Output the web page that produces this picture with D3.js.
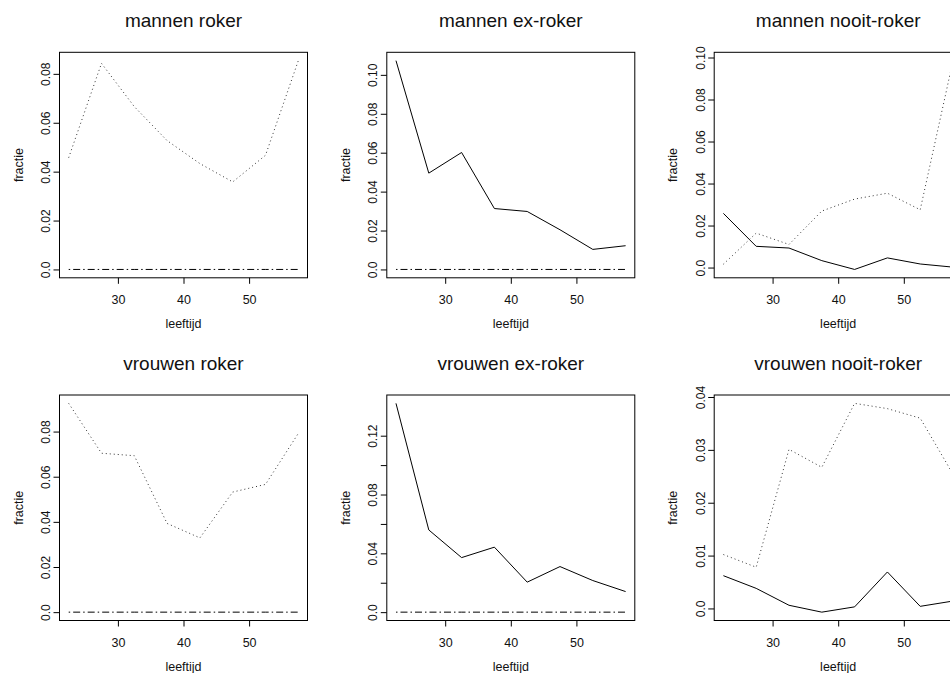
<!DOCTYPE html>
<html>
<head>
<meta charset="utf-8">
<script src="https://cdn.jsdelivr.net/npm/d3@7"></script>
<style>
  body { margin: 0; background: #fff; }
  svg text { font-family: "Liberation Sans", Arial, Helvetica, sans-serif; fill: #111; }
</style>
</head>
<body>
<div id="chart"></div>
<script>
// leeftijdsklassen (midden van 5-jaarsgroepen)
const ages = [22.5, 27.5, 32.5, 37.5, 42.5, 47.5, 52.5, 57.5];
const xTickValues = [30, 40, 50];

const panelTitles = ["mannen roker", "mannen ex-roker", "mannen nooit-roker",
                     "vrouwen roker", "vrouwen ex-roker", "vrouwen nooit-roker"];

// reeksen per paneel
const mannenRokerDotted  = [0.0457, 0.0843, 0.0666, 0.0527, 0.0433, 0.0358, 0.0467, 0.0854];
const mannenRokerDashDot = [0, 0, 0, 0, 0, 0, 0, 0];
const mannenExSolid      = [0.1073, 0.0495, 0.0601, 0.0313, 0.0298, 0.0204, 0.0103, 0.0122];
const mannenExDashDot    = [0, 0, 0, 0, 0, 0, 0, 0];
const mannenNooitSolid   = [0.0258, 0.0101, 0.0093, 0.0033, -0.0009, 0.0046, 0.0017, 0.0002];
const mannenNooitDotted  = [0.0016, 0.0164, 0.0110, 0.0269, 0.0326, 0.0354, 0.0275, 0.0985];
const vrouwenRokerDotted  = [0.0925, 0.0704, 0.0693, 0.0393, 0.0329, 0.0532, 0.0566, 0.0792];
const vrouwenRokerDashDot = [0, 0, 0, 0, 0, 0, 0, 0];
const vrouwenExSolid      = [0.1420, 0.0559, 0.0371, 0.0442, 0.0204, 0.0310, 0.0215, 0.0140];
const vrouwenExDashDot    = [0, 0, 0, 0, 0, 0, 0, 0];
const vrouwenNooitSolid   = [0.0062, 0.0038, 0.0006, -0.0007, 0.0003, 0.0069, 0.0004, 0.0014];
const vrouwenNooitDotted  = [0.0102, 0.0078, 0.0301, 0.0267, 0.0388, 0.0378, 0.0360, 0.0254];

// y-as ticks en labels per paneel
const yTicks0 = [0, 0.02, 0.04, 0.06, 0.08];
const yLabels0 = ["0.0", "0.02", "0.04", "0.06", "0.08"];
const yTicks1 = [0, 0.02, 0.04, 0.06, 0.08, 0.10];
const yLabels1 = ["0.0", "0.02", "0.04", "0.06", "0.08", "0.10"];
const yTicks4 = [0, 0.02, 0.04, 0.06, 0.08, 0.10, 0.12];
const yLabels4 = ["0.0", "", "0.04", "", "0.08", "", "0.12"];
const yTicks5 = [0, 0.01, 0.02, 0.03, 0.04];
const yLabels5 = ["0.0", "0.01", "0.02", "0.03", "0.04"];

const panels = [
    { series: [[mannenRokerDotted, "dot"], [mannenRokerDashDot, "dashdot"]], ticks: yTicks0, labels: yLabels0 },
    { series: [[mannenExSolid, "solid"], [mannenExDashDot, "dashdot"]], ticks: yTicks1, labels: yLabels1 },
    { series: [[mannenNooitSolid, "solid"], [mannenNooitDotted, "dot"]], ticks: yTicks1, labels: yLabels1 },
    { series: [[vrouwenRokerDotted, "dot"], [vrouwenRokerDashDot, "dashdot"]], ticks: yTicks0, labels: yLabels0 },
    { series: [[vrouwenExSolid, "solid"], [vrouwenExDashDot, "dashdot"]], ticks: yTicks4, labels: yLabels4 },
    { series: [[vrouwenNooitSolid, "solid"], [vrouwenNooitDotted, "dot"]], ticks: yTicks5, labels: yLabels5 }
];

const dashes = { solid: null, dot: "1,3", dashdot: "1.5,3,7,3" };

// layout
const W = 950, H = 673;
const colLeft = [59.5, 386.8, 714.2];
const rowTop = [52.3, 395];
const boxW = 248, boxH = 225.5;

const svg = d3.select("#chart")
    .append("svg")
    .attr("width", W)
    .attr("height", H);

// R-achtige asuitbreiding van 4%
function extend(lo, hi) {
    const r = hi - lo;
    return [lo - 0.04 * r, hi + 0.04 * r];
}

panels.forEach((p, i) => {
    const left = colLeft[i % 3], top = rowTop[Math.floor(i / 3)];
    const g = svg.append("g").attr("transform", `translate(${left}, ${top})`);

    const x = d3.scaleLinear()
        .domain(extend(d3.min(ages), d3.max(ages)))
        .range([0, boxW]);

    const allVals = p.series.flatMap(s => s[0]);
    const y = d3.scaleLinear()
        .domain(extend(d3.min(allVals), d3.max(allVals)))
        .range([boxH, 0]);

    // lijnen
    const line = d3.line()
        .x((d, j) => x(ages[j]))
        .y(d => y(d));

    p.series.forEach(s => {
        g.append("path")
            .datum(s[0])
            .attr("d", line)
            .attr("fill", "none")
            .attr("stroke", s[1] == "dot" ? "#333" : "#000")
            .attr("stroke-width", 1)
            .attr("stroke-dasharray", dashes[s[1]]);
    });

    // kader
    g.append("rect")
        .attr("x", 0).attr("y", 0)
        .attr("width", boxW).attr("height", boxH)
        .attr("fill", "none")
        .attr("stroke", "#000")
        .attr("stroke-width", 1);

    // x-as
    const xAxis = g.append("g")
        .attr("transform", `translate(0, ${boxH})`)
        .call(d3.axisBottom(x).tickValues(xTickValues).tickSize(6).tickSizeOuter(0).tickPadding(6));
    xAxis.select(".domain").remove();
    xAxis.selectAll("text")
        .attr("font-size", 12.5)
        .attr("font-family", null)
        .attr("dy", null)
        .attr("y", 26);

    // y-as
    const yAxis = g.append("g")
        .call(d3.axisLeft(y).tickValues(p.ticks).tickSize(6).tickSizeOuter(0)
            .tickFormat((d, j) => p.labels[j]));
    yAxis.select(".domain").remove();
    yAxis.selectAll("text")
        .attr("font-size", 12)
        .attr("font-family", null)
        .attr("text-anchor", "middle")
        .attr("transform", "rotate(-90)")
        .attr("x", 0)
        .attr("dy", null)
        .attr("y", -9.5);

    // titel en aslabels
    g.append("text")
        .attr("x", boxW / 2)
        .attr("y", -25.5)
        .attr("text-anchor", "middle")
        .attr("font-size", 19)
        .text(panelTitles[i]);

    g.append("text")
        .attr("x", boxW / 2)
        .attr("y", boxH + 50.5)
        .attr("text-anchor", "middle")
        .attr("font-size", 12.5)
        .text("leeftijd");

    g.append("text")
        .attr("transform", `translate(-37, ${boxH / 2}) rotate(-90)`)
        .attr("text-anchor", "middle")
        .attr("font-size", 12.5)
        .text("fractie");
});
</script>
</body>
</html>
